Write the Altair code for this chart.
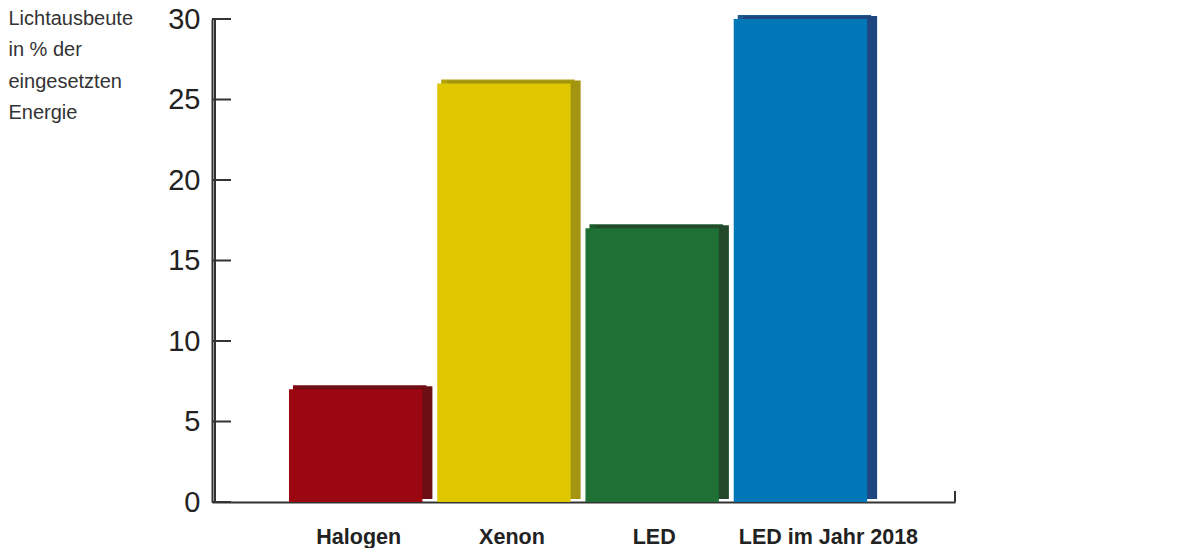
import altair as alt
import pandas as pd

categories = ["Halogen", "Xenon", "LED", "LED im Jahr 2018"]
values = [7, 26, 17, 30]
front_colors = ["#9b0710", "#dfc700", "#1e7034", "#0078b8"]
side_colors = ["#6b0f14", "#a39412", "#23482a", "#1f477f"]
top_colors = ["#7a0b12", "#b3a30c", "#1d5a2b", "#1c5a94"]
y_ticks = [0, 5, 10, 15, 20, 25, 30]
y_title = ["Lichtausbeute", "in % der", "eingesetzten", "Energie"]
label_nudges = [3, 8, 2, 28]

W, H = 743, 483
FONT = "Liberation Sans"
AXIS = "#333333"

df = pd.DataFrame({"cat": categories, "v": values, "front": front_colors,
                   "side": side_colors, "top": top_colors})
tick_df = pd.DataFrame({"v": y_ticks})

x_scale = alt.Scale(domain=categories, paddingInner=0.1, paddingOuter=0.556, align=0.467)
y_scale = alt.Scale(domain=[0, 30], nice=False)

x_axis = alt.Axis(title=None, labels=False, ticks=False, domainColor=AXIS, domainWidth=2)
y_axis = alt.Axis(
    title=y_title, titleAngle=0, titleAlign="left", titleBaseline="top",
    titleX=-204, titleY=-11, titleFont=FONT, titleFontSize=20, titleFontWeight="normal",
    titleLineHeight=31.5, titleColor="#333333",
    values=y_ticks, ticks=False, grid=False, labelFont=FONT, labelFontSize=29,
    labelColor="#222222", labelPadding=12, domain=True, domainColor=AXIS, domainWidth=2)

x = alt.X("cat:N", scale=x_scale, sort=categories, axis=x_axis)
y = alt.Y("v:Q", scale=y_scale, axis=y_axis)

top_face = alt.Chart(df).mark_bar(xOffset=4, x2Offset=10, yOffset=-4).encode(
    x=x, y=y, color=alt.Color("top:N", scale=None))
side_face = alt.Chart(df).mark_bar(xOffset=10, x2Offset=10, yOffset=-3, y2Offset=-3).encode(
    x=x, y=y, color=alt.Color("side:N", scale=None))
front_face = alt.Chart(df).mark_bar().encode(
    x=x, y=y, color=alt.Color("front:N", scale=None))

tick_marks = alt.Chart(tick_df).mark_rule(color=AXIS, strokeWidth=2).encode(
    x=alt.value(0), x2=alt.value(19), y=y)
left_line = alt.Chart(tick_df.head(1)).mark_rule(color=AXIS, strokeWidth=2).encode(
    x=alt.value(3), y=alt.value(0), y2=alt.value(H))
end_tick = alt.Chart(tick_df.head(1)).mark_rule(color=AXIS, strokeWidth=2).encode(
    x=alt.value(W), y=alt.value(H - 11), y2=alt.value(H))

labels = []
for cat, nudge in zip(categories, label_nudges):
    labels.append(alt.Chart(pd.DataFrame({"cat": [cat]})).mark_text(
        font=FONT, fontSize=21.5, fontWeight="bold", color="#222222", dx=nudge, baseline="middle",
    ).encode(x=x, y=alt.value(H + 36), text="cat:N"))

chart = alt.layer(top_face, side_face, front_face, tick_marks, end_tick, *labels, left_line).properties(
    width=W, height=H, autosize="none",
    padding={"left": 204, "top": 11, "right": 200, "bottom": 46},
).configure_view(stroke=None)

chart.save("out.html", embed_options={"renderer": "svg", "actions": False})
